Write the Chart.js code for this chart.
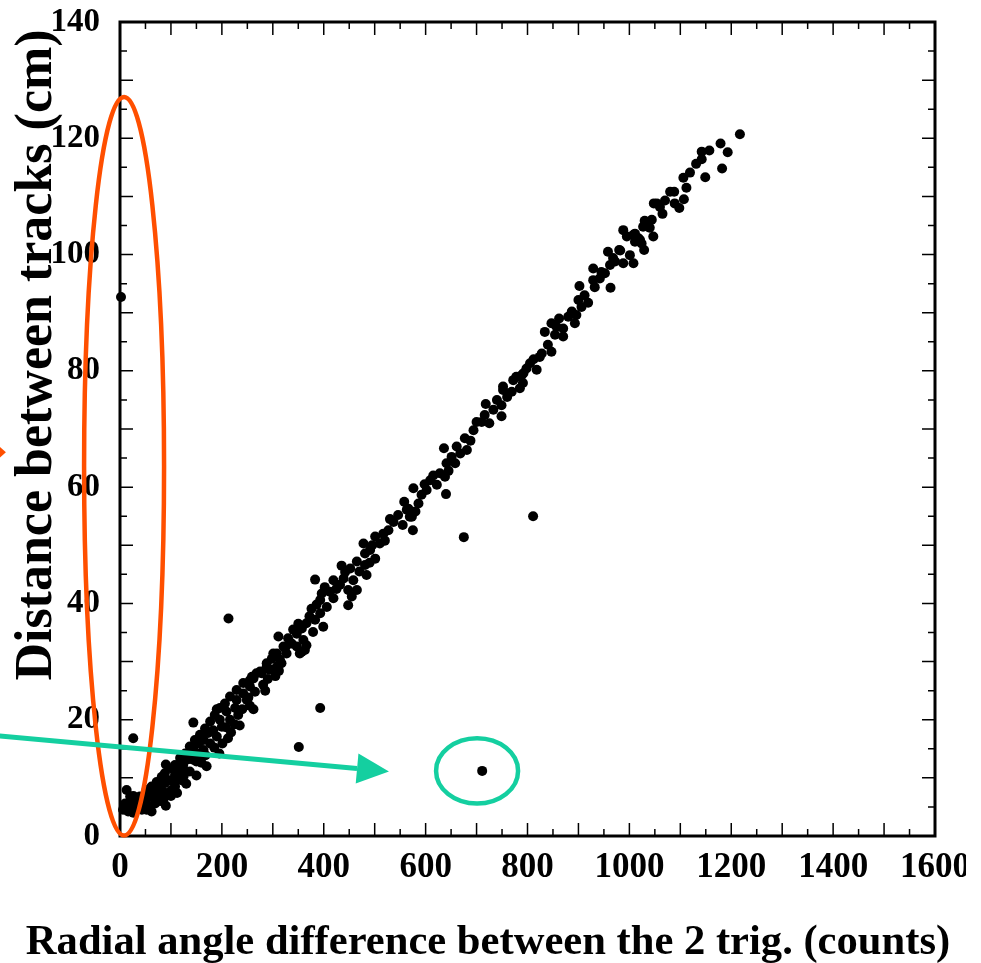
<!DOCTYPE html>
<html>
<head>
<meta charset="utf-8">
<script src="https://cdn.jsdelivr.net/npm/chart.js@4.4.0/dist/chart.umd.min.js"></script>
<style>
  html, body { margin: 0; padding: 0; background: #fff; }
  #wrap { width: 966px; height: 963px; overflow: hidden; }
</style>
</head>
<body>
<div id="wrap"><canvas id="chart" width="981" height="963"></canvas></div>
<script>
// [angle difference (counts), distance (cm)]
const highBand = [
  [1217,120.7],[1179,119.1],[1193,117.6],[1157,117.9],[1142,117.7],[1142,116.4],[1131,115.6],[1182,114.8],
  [1149,113.3],[1119,114.1],[1106,113.2],[1080,110.8],[1088,110.8],[1107,109.5],[1098,108.0],[1089,108.8],
  [1070,109.3],[1060,108.2],[1048,108.8],[1044,106.0],[1034,105.4],[1027,104.8],[1047,103.1],[988,104.2],
  [995,103.1],[1008,103.4],[1018,102.8],[1024,101.9],[1011,102.2],[1029,100.8],[980,100.8],[1001,99.9],
  [968,99.4],[1054,108.8],[1037,105.4],[1030,105.8],[1040,104.6],[1011,103.6],[1021,102.5],[982,100.7],
  [1008,98.5],[988,98.5],[972,98.8],[962,98.2],[952,96.8],[929,97.6],[929,95.6],[942,95.9],
  [963,94.3],[932,94.4],[902,94.6],[919,91.7],[900,92.2],[906,91.0],[887,90.2],[896,89.6],
  [880,89.3],[893,88.2],[847,88.2],[834,86.7],[857,87.6],[870,87.3],[854,86.2],[870,85.9],
  [847,83.3],[828,83.0],[824,82.4],[805,81.3],[818,80.2],[798,80.4],[789,79.3],[772,78.4],
  [752,77.3],[791,77.9],[792,79.6],[785,77.0],[752,76.7],[769,76.4],[718,74.3],[749,74.1],
  [733,73.3],[749,72.2],[716,72.4],[710,71.2],[700,71.2],[725,71.0],[740,75.0],[760,75.5],
  [778,79.0],[812,82.0],[840,84.5],[862,89.0],[912,93.0],[945,97.0],[958,100.5],[1065,107.0],
  [1112,111.5]
];
const midBand = [
  [694,69.8],[677,68.4],[681,66.4],[661,67.0],[636,66.7],[651,65.2],[641,64.1],[658,64.1],
  [628,62.4],[638,61.8],[609,61.2],[622,60.4],[640,58.8],[602,59.5],[576,59.8],[592,58.7],
  [586,57.2],[566,56.3],[569,54.9],[546,55.2],[537,54.0],[575,52.6],[563,56.1],[573,54.9],
  [527,52.6],[517,52.0],[501,51.5],[510,50.3],[478,50.3],[491,49.2],[481,48.6],[501,47.7],
  [465,47.2],[481,46.6],[452,46.0],[484,44.9],[442,45.4],[439,44.3],[419,44.0],[383,44.1],
  [432,43.2],[448,42.3],[465,42.3],[412,42.0],[396,41.7],[455,41.2],[419,40.9],[393,40.6],
  [448,39.7],[406,39.4],[376,39.1],[393,38.3],[383,37.2],[399,36.0],[366,36.6],[357,35.7],
  [379,35.1],[347,34.8],[311,34.3],[360,33.7],[334,33.1],[363,32.0],[324,32.3],[308,31.4],
  [353,31.4],[366,32.8],[357,31.7],[337,33.1],[327,31.4],[314,30.3],[301,31.4],[308,29.1],
  [321,32.6],[347,32.6],[317,29.7],[330,34.0],[340,35.5],[350,36.5],[372,37.8],[386,39.8],
  [402,42.8],[425,42.5],[435,46.5],[458,44.0],[470,45.5],[490,47.0],[495,50.0],[520,50.8],
  [530,54.5],[555,53.5],[558,57.5],[580,55.8],[598,60.5],[615,62.0],[645,62.8],[668,65.8],
  [688,68.0]
];
const lowBand = [
  [298,30.5],[288,29.1],[275,28.3],[300,28.6],[259,27.4],[288,29.7],[278,28.0],[262,27.1],
  [281,26.0],[255,25.7],[242,24.5],[229,23.4],[249,23.4],[226,22.0],[209,21.4],[216,20.0],
  [196,20.0],[200,18.8],[183,18.2],[201,15.9],[173,17.7],[164,16.5],[154,15.9],[144,14.8],
  [164,14.8],[137,13.9],[131,13.1],[150,12.8],[124,12.2],[118,11.4],[137,11.1],[108,10.5],
  [82,10.2],[98,9.6],[121,9.6],[88,9.1],[79,8.5],[108,8.5],[69,7.6],[92,7.3],
  [59,6.8],[79,6.5],[52,5.6],[69,5.6],[62,4.2],[46,5.0],[36,5.3],[39,6.8],
  [26,6.9],[13,7.9],[20,6.8],[10,5.6],[6,4.5],[16,4.2],[26,4.0],[43,4.5],
  [242,26.3],[229,25.1],[216,24.0],[206,22.8],[196,22.0],[186,20.8],[177,19.7],[167,18.5],
  [157,17.4],[147,16.5],[137,15.4],[128,14.2],[118,13.4],[108,12.2],[101,11.6],[88,10.8],
  [72,9.3],[62,8.5],[52,7.9],[46,6.8],[33,6.2],[20,5.6],[10,5.0],[52,4.5],
  [268,28.0],[255,26.8],[190,17.1],[177,15.9],[157,14.2],[144,13.1],[128,11.1],[111,9.6],
  [101,7.9],[85,7.6],[72,6.8],[59,5.0],[294,28.6],[305,27.5],[290,27.0],[265,24.8],
  [252,23.8],[240,21.8],[255,22.4],[232,20.8],[225,19.2],[208,18.7],[218,17.8],[185,15.2],
  [168,13.9],[160,12.6],[125,10.3],[115,10.8],[100,6.9],[85,5.9],[75,6.0],[95,7.0],
  [32,4.6],[312,28.4],[285,25.0],[262,21.8],[235,19.0],[212,16.8],[195,14.2],[170,12.0],
  [150,10.4],[130,9.0],[112,7.4],[90,5.2]
];
const strays = [
  [2,92.7],[26,16.8],[90,12.3],[144,19.5],[190,21.8],[213,37.4],
  [351,15.3],[393,22.0],[675,51.4],[711,11.2],[811,55.0]
];

// annotation shapes in data units: [centre x, centre y, radius x, radius y]
const redRing = [8, 63.6, 78.5, 63.5];
const greenRing = [701, 11.2, 80.5, 5.6];
const greenArrow = [[-236, 17.2], [528, 11.1]];
const redArrowTip = [-224, 66];

const xTicks = { max: 1600, label: 200, long: 100, short: 50 };
const yTicks = { max: 140, label: 20, long: 10, short: 5 };

const toXY = (pts) => pts.map(p => ({ x: p[0], y: p[1] }));

const serif = '"Liberation Serif", "Times New Roman", serif';

const frameTicks = {
  id: 'frameTicks',
  beforeDatasetsDraw(chart) {
    const { ctx, chartArea: a, scales: { x, y } } = chart;
    ctx.save();
    ctx.strokeStyle = '#000';
    ctx.lineWidth = 1.5;
    ctx.beginPath();
    for (let v = 0; v <= xTicks.max; v += xTicks.short) {
      const px = x.getPixelForValue(v);
      const len = v % xTicks.long === 0 ? 13 : 7;
      ctx.moveTo(px, a.bottom); ctx.lineTo(px, a.bottom - len);
      ctx.moveTo(px, a.top); ctx.lineTo(px, a.top + len);
    }
    for (let v = 0; v <= yTicks.max; v += yTicks.short) {
      const py = y.getPixelForValue(v);
      const len = v % yTicks.long === 0 ? 13 : 7;
      ctx.moveTo(a.left, py); ctx.lineTo(a.left + len, py);
      ctx.moveTo(a.right, py); ctx.lineTo(a.right - len, py);
    }
    ctx.stroke();
    ctx.lineWidth = 3;
    ctx.strokeRect(a.left, a.top, a.right - a.left, a.bottom - a.top);
    ctx.restore();
  },
  afterDatasetsDraw(chart) {
    const { ctx, scales: { x, y } } = chart;
    const ring = (r, color, w) => {
      const cx = x.getPixelForValue(r[0]);
      const cy = y.getPixelForValue(r[1]);
      const rx = x.getPixelForValue(r[0] + r[2]) - cx;
      const ry = cy - y.getPixelForValue(r[1] + r[3]);
      ctx.beginPath();
      ctx.ellipse(cx, cy, rx, ry, 0, 0, Math.PI * 2);
      ctx.strokeStyle = color;
      ctx.lineWidth = w;
      ctx.stroke();
    };
    ctx.save();
    ring(redRing, '#ff4f00', 4.5);
    ring(greenRing, '#14cfa0', 4.5);

    // green arrow
    const x0 = x.getPixelForValue(greenArrow[0][0]), y0 = y.getPixelForValue(greenArrow[0][1]);
    const x1 = x.getPixelForValue(greenArrow[1][0]), y1 = y.getPixelForValue(greenArrow[1][1]);
    const ang = Math.atan2(y1 - y0, x1 - x0);
    const head = 32, half = 15;
    const bx = x1 - head * Math.cos(ang), by = y1 - head * Math.sin(ang);
    ctx.strokeStyle = '#14cfa0';
    ctx.fillStyle = '#14cfa0';
    ctx.lineWidth = 5;
    ctx.beginPath();
    ctx.moveTo(x0, y0); ctx.lineTo(bx, by);
    ctx.stroke();
    ctx.beginPath();
    ctx.moveTo(x1, y1);
    ctx.lineTo(bx + half * Math.sin(ang), by - half * Math.cos(ang));
    ctx.lineTo(bx - half * Math.sin(ang), by + half * Math.cos(ang));
    ctx.closePath();
    ctx.fill();

    // tip of a red arrow cut by the left edge
    const tx = x.getPixelForValue(redArrowTip[0]), ty = y.getPixelForValue(redArrowTip[1]);
    ctx.fillStyle = '#ff4f00';
    ctx.beginPath();
    ctx.moveTo(tx, ty);
    ctx.lineTo(tx - 8, ty - 7);
    ctx.lineTo(tx - 8, ty + 7);
    ctx.closePath();
    ctx.fill();
    ctx.restore();
  },
  afterDraw(chart) {
    const { ctx } = chart;
    ctx.save();
    ctx.fillStyle = '#000';
    ctx.textAlign = 'center';
    ctx.textBaseline = 'alphabetic';
    ctx.font = 'bold 42.6px ' + serif;
    ctx.fillText('Radial angle difference between the 2 trig. (counts)', 488, 954);
    ctx.translate(51, 355);
    ctx.rotate(-Math.PI / 2);
    ctx.font = 'bold 52px ' + serif;
    ctx.fillText('Distance between tracks (cm)', 0, 0);
    ctx.restore();
  }
};

const pointStyle = {
  pointRadius: 5,
  pointHoverRadius: 5,
  pointBackgroundColor: '#000',
  pointBorderWidth: 0,
  showLine: false,
  clip: false
};

new Chart(document.getElementById('chart'), {
  type: 'scatter',
  data: {
    datasets: [
      { data: toXY(lowBand), ...pointStyle },
      { data: toXY(midBand), ...pointStyle },
      { data: toXY(highBand), ...pointStyle },
      { data: toXY(strays), ...pointStyle }
    ]
  },
  options: {
    responsive: false,
    devicePixelRatio: 1,
    animation: false,
    layout: { padding: { top: 22, right: 46, left: 0, bottom: 0 } },
    plugins: { legend: { display: false }, tooltip: { enabled: false } },
    scales: {
      x: {
        type: 'linear',
        min: 0,
        max: xTicks.max,
        grid: { display: false },
        border: { display: false },
        afterFit: (scale) => { scale.height = 127; },
        ticks: {
          stepSize: xTicks.label,
          autoSkip: false,
          maxRotation: 0,
          padding: 6,
          color: '#000',
          callback: (v) => String(v),
          font: { family: serif, size: 35, weight: 'bold', lineHeight: 1 }
        }
      },
      y: {
        type: 'linear',
        min: 0,
        max: yTicks.max,
        grid: { display: false },
        border: { display: false },
        afterFit: (scale) => {
          scale.width = 120;
          scale.paddingTop = 0;
          scale.paddingBottom = 0;
        },
        ticks: {
          stepSize: yTicks.label,
          padding: 12,
          color: '#000',
          callback: (v) => String(v),
          font: { family: serif, size: 33, weight: 'bold' }
        }
      }
    }
  },
  plugins: [frameTicks]
});
</script>
</body>
</html>
